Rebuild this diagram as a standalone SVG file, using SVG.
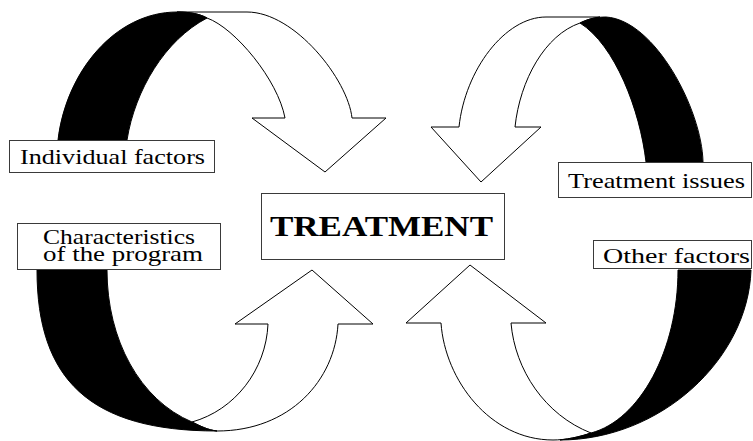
<svg xmlns="http://www.w3.org/2000/svg" width="753" height="441" viewBox="0 0 753 441">
<style>
.w{fill:#fff;stroke:#000;stroke-width:1;stroke-linejoin:miter}
.b{fill:#000;stroke:#000;stroke-width:1}
.box{fill:#fff;stroke:#3a3a3a;stroke-width:1}
.t{font-family:"Liberation Serif","Times New Roman",serif;font-size:21px;fill:#000}
.big{font-family:"Liberation Serif","Times New Roman",serif;font-size:30px;font-weight:bold;fill:#000}
</style>
<rect width="753" height="441" fill="#fff"/>
<g id="connectors">
  <g id="arrow-top-left">
    <path class="w" d="M 177,12 L 247,12 C 295,12 348,80 352,118 L 386,118 L 325,172 L 252,118 L 285,118 C 278,80 235,28 207,18 C 200,14 190,12 177,12 Z"/>
    <path class="b" d="M 58,140 C 66,72 115,12 177,12 C 190,12 200,14 207,18 C 165,40 135,90 127,140 Z"/>
  </g>
  <g id="arrow-top-right">
    <path class="w" d="M 431,127 L 459,127 C 465,70 505,17 546,17 L 600,17 C 592,18 586,20 580,23 C 545,35 520,80 515,127 L 541,127 L 481,182 Z"/>
    <path class="b" d="M 580,23 C 588,19 596,17 606,17 C 655,20 702,110 703,162 L 646,162 C 640,110 615,45 580,23 Z"/>
  </g>
  <g id="arrow-bottom-left">
    <path class="w" d="M 217,431 C 290,431 335,380 338,324 L 373,324 L 312,270 L 235,324 L 268,324 C 266,370 235,410 192,422 C 200,426 208,430 217,431 Z"/>
    <path class="b" d="M 37,270 L 107,270 C 107,340 140,400 192,422 C 200,426 208,430 217,431 C 90,431 37,380 37,270 Z"/>
  </g>
  <g id="arrow-bottom-right">
    <path class="w" d="M 406,323 L 441,323 C 445,380 490,440 553,440 C 565,440 580,437 591,433 C 545,415 515,370 511,323 L 546,323 L 470,265 Z"/>
    <path class="b" d="M 678,270 L 751,270 C 748,360 660,440 560,440 C 570,439 582,436 591,433 C 640,420 678,350 678,270 Z"/>
  </g>
</g>
<g id="individual-factors">
  <rect class="box" x="9.5" y="140.5" width="205" height="32"/>
  <text class="t" x="20" y="164" textLength="185" lengthAdjust="spacingAndGlyphs">Individual factors</text>
</g>
<g id="treatment">
  <rect class="box" x="261.5" y="193.5" width="243" height="66"/>
  <text class="big" x="270" y="236" textLength="223" lengthAdjust="spacingAndGlyphs">TREATMENT</text>
</g>
<g id="characteristics">
  <rect class="box" x="17.5" y="223.5" width="203" height="46"/>
  <text class="t" x="43" y="244" textLength="152" lengthAdjust="spacingAndGlyphs">Characteristics</text>
  <text class="t" x="43" y="261" textLength="160" lengthAdjust="spacingAndGlyphs">of the program</text>
</g>
<g id="treatment-issues">
  <rect class="box" x="558.5" y="162.5" width="193" height="35"/>
  <text class="t" x="568" y="188" textLength="177" lengthAdjust="spacingAndGlyphs">Treatment issues</text>
</g>
<g id="other-factors">
  <rect class="box" x="593.5" y="240.5" width="158" height="28"/>
  <text class="t" x="603" y="263" textLength="147" lengthAdjust="spacingAndGlyphs">Other factors</text>
</g>
</svg>
